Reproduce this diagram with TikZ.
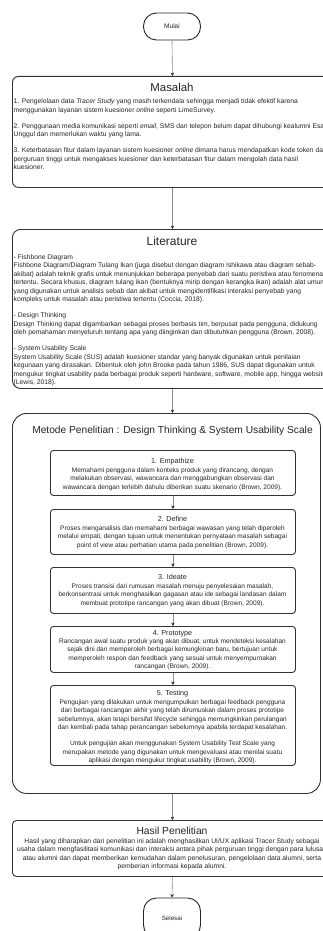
\documentclass[tikz,border=0pt]{standalone}
\usepackage{fontspec}
\setmainfont{Liberation Sans}
\usetikzlibrary{arrows.meta}

\begin{document}
\begin{tikzpicture}[x=1pt, y=-1pt,
  box/.style={draw=black!80, line width=0.9pt, fill=white, inner sep=0pt, anchor=north west},
  terminal/.style={draw=black!85, line width=0.9pt, fill=white, rounded corners=13pt,
    minimum width=57pt, minimum height=27pt, inner sep=0pt, text=black!85,
    font=\fontsize{6.6}{8}\selectfont},
  stepbox/.style={box, rounded corners=3pt, minimum width=245pt},
  body/.style={inner sep=0pt, text=black!85, font=\fontsize{6.55}{8.5}\selectfont},
  widebody/.style={body, font=\fontsize{6.75}{8.5}\selectfont},
  bigtitle/.style={inner sep=0pt, anchor=base, text=black!85},
  steptitle/.style={bigtitle, font=\fontsize{7.2}{9}\selectfont},
  flow/.style={draw=black!45, line width=0.6pt, -{Stealth[length=3.5pt,width=3.5pt,color=black!85]}},
]
\useasboundingbox (0,0) rectangle (323,931);
\clip (0,0) rectangle (323,931);

% start terminal
\node[terminal] (mulai) at (172,26.5) {Mulai};

% problem statement
\node[box, rounded corners=6pt, minimum width=320pt, minimum height=111pt] (masalah) at (12,76) {};
\node[bigtitle, font=\fontsize{11.4}{13}\selectfont] (masalahT) at (172,92) {Masalah};
\node[widebody, anchor=north west, align=left] (masalahB) at (13.5,98.8) {%
1. Pengelolaan data \textit{Tracer Study} yang masih terkendala sehingga menjadi tidak efektif karena\\
menggunakan layanan sistem kuesioner \textit{online} seperti LimeSurvey.\\[7.5pt]
2. Penggunaan media komunikasi seperti \textit{email}, SMS dan telepon belum dapat dihubungi kealumni Esa\\
Unggul dan memerlukan waktu yang lama.\\[7.5pt]
3. Keterbatasan fitur dalam layanan sistem kuesioner \textit{online} dimana harus mendapatkan kode token dari\\
perguruan tinggi untuk mengakses kuesioner dan keterbatasan fitur dalam mengolah data hasil\\
kuesioner.};

% literature review
\node[box, rounded corners=8pt, minimum width=320pt, minimum height=159pt] (literature) at (12,229) {};
\node[bigtitle, font=\fontsize{12}{14}\selectfont] (literatureT) at (172,245) {Literature};
\node[widebody, anchor=north west, align=left] (literatureB) at (13.5,254.3) {%
- Fishbone Diagram\\
Fishbone Diagram/Diagram Tulang Ikan (juga disebut dengan diagram Ishikawa atau diagram sebab-\\
akibat) adalah teknik grafis untuk menunjukkan beberapa penyebab dari suatu peristiwa atau fenomena\\
tertentu. Secara khusus, diagram tulang ikan (bentuknya mirip dengan kerangka ikan) adalah alat umum\\
yang digunakan untuk analisis sebab dan akibat untuk mengidentifikasi interaksi penyebab yang\\
kompleks untuk masalah atau peristiwa tertentu (Coccia, 2018).\\[7.5pt]
- Design Thinking\\
Design Thinking dapat digambarkan sebagai proses berbasis tim, berpusat pada pengguna, didukung\\
oleh pemahaman menyeluruh tentang apa yang diinginkan dan dibutuhkan pengguna (Brown, 2008).\\[7.5pt]
- System Usability Scale\\
System Usability Scale (SUS) adalah kuesioner standar yang banyak digunakan untuk penilaian\\
kegunaan yang dirasakan. Dibentuk oleh john Brooke pada tahun 1986, SUS dapat digunakan untuk\\
mengukur tingkat usability pada berbagai produk seperti hardware, software, mobile app, hingga website\\
(Lewis, 2018).};

% method container
\node[box, rounded corners=14pt, minimum width=308pt, minimum height=380pt] (metode) at (12,413) {};
\node[bigtitle, font=\fontsize{10.2}{12}\selectfont] (metodeT) at (172.5,433.5)
  {Metode Penelitian : Design Thinking \& System Usability Scale};

% design thinking stages
\node[stepbox, minimum height=45pt] (s1) at (50,450) {};
\node[steptitle] (s1T) at (172.5,463.6) {1. Empathize};
\node[body, anchor=north, align=center] (s1B) at (172.5,467.3) {%
Memahami pengguna dalam konteks produk yang dirancang, dengan\\
melakukan observasi, wawancara dan menggabungkan observasi dan\\
wawancara dengan terlebih dahulu diberikan suatu skenario (Brown, 2009).};

\node[stepbox, minimum height=45pt] (s2) at (50,509) {};
\node[steptitle] (s2T) at (172.5,521.6) {2. Define};
\node[body, anchor=north, align=center] (s2B) at (172.5,525.3) {%
Proses menganalisis dan memahami berbagai wawasan yang telah diperoleh\\
melalui empati, dengan tujuan untuk menentukan pernyataan masalah sebagai\\
point of view atau perhatian utama pada penelitian (Brown, 2009).};

\node[stepbox, minimum height=46pt] (s3) at (50,567) {};
\node[steptitle] (s3T) at (172.5,579.6) {3. Ideate};
\node[body, anchor=north, align=center] (s3B) at (172.5,583.3) {%
Proses transisi dari rumusan masalah menuju penyelesaian masalah,\\
berkonsentrasi untuk menghasilkan gagasan atau ide sebagai landasan dalam\\
membuat prototipe rancangan yang akan dibuat (Brown, 2009).};

\node[stepbox, minimum height=46pt] (s4) at (50,626) {};
\node[steptitle] (s4T) at (172.5,635.6) {4. Prototype};
\node[body, anchor=north, align=center] (s4B) at (172.5,638.3) {%
Rancangan awal suatu produk yang akan dibuat, untuk mendeteksi kesalahan\\
sejak dini dan memperoleh berbagai kemungkinan baru, bertujuan untuk\\
memperoleh respon dan feedback yang sesuai untuk menyempurnakan\\
rancangan (Brown, 2009).};

\node[stepbox, minimum height=80pt] (s5) at (50,685) {};
\node[steptitle] (s5T) at (172.5,695.6) {5. Testing};
\node[body, anchor=north, align=center] (s5B) at (172.5,699.3) {%
Pengujian yang dilakukan untuk mengumpulkan berbagai feedback pengguna\\
dari berbagai rancangan akhir yang telah dirumuskan dalam proses prototipe\\
sebelumnya, akan tetapi bersifat lifecycle sehingga memungkinkan perulangan\\
dan kembali pada tahap perancangan sebelumnya apabila terdapat kesalahan.\\[7.5pt]
Untuk pengujian akan menggunakan System Usability Test Scale yang\\
merupakan metode yang digunakan untuk mengevaluasi atau menilai suatu\\
aplikasi dengan mengukur tingkat usability (Brown, 2009).};

% expected result
\node[box, rounded corners=4pt, minimum width=320pt, minimum height=56pt] (hasil) at (12,820) {};
\node[bigtitle, font=\fontsize{10.3}{12}\selectfont] (hasilT) at (172,834.6) {Hasil Penelitian};
\node[widebody, anchor=north, align=center] (hasilB) at (172,838.3) {%
Hasil yang diharapkan dari penelitian ini adalah menghasilkan UI/UX aplikasi Tracer Study sebagai\\
usaha dalam mengfasilitasi komunikasi dan interaksi antara pihak perguruan tinggi dengan para lulusan\\
atau alumni dan dapat memberikan kemudahan dalam penelusuran, pengelolaan data alumni, serta\\
pemberian informasi kepada alumni.};

% end terminal
\node[terminal, minimum height=40pt, font=\fontsize{6.2}{8}\selectfont] (selesai) at (172,918) {Selesai};

% connectors
\draw[flow] (mulai.south) -- (masalah.north);
\draw[flow] (masalah.south) -- (literature.north);
\draw[flow] (literature.south) -- (literature.south |- metode.north);
\draw[flow] (s1.south) -- (s2.north);
\draw[flow] (s2.south) -- (s3.north);
\draw[flow] (s3.south) -- (s4.north);
\draw[flow] (s4.south) -- (s5.north);
\draw[flow] (metode.south -| hasil.north) -- (hasil.north);
\draw[flow] (hasil.south) -- (selesai.north);
\end{tikzpicture}
\end{document}
